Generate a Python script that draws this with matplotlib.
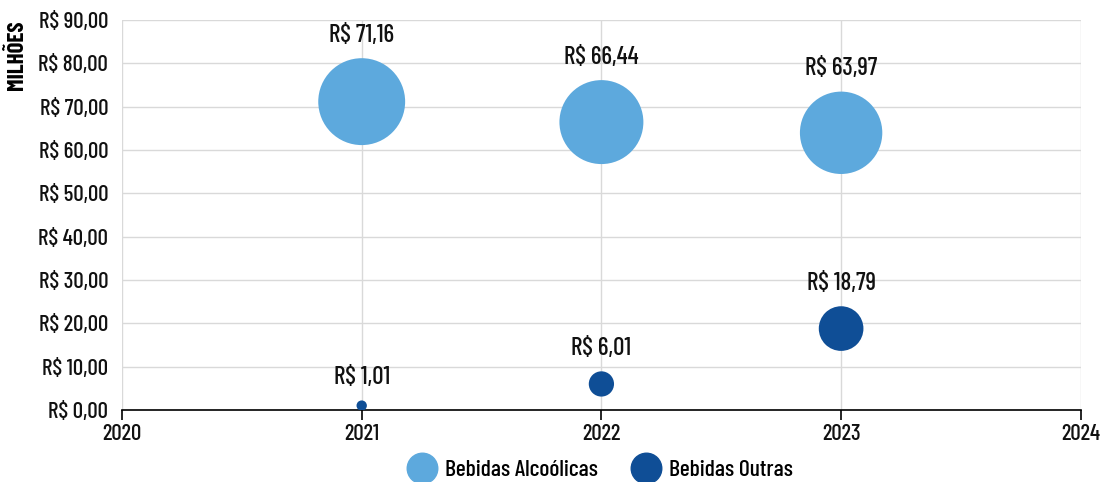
import numpy as np
import matplotlib.pyplot as plt
from matplotlib.lines import Line2D

plt.rcParams['font.family'] = ['Barlow Condensed', 'Roboto Condensed', 'IBM Plex Sans Condensed', 'DejaVu Sans']
plt.rcParams['font.weight'] = 'medium'

anos = [2021, 2022, 2023]
alcoolicas = [71.16, 66.44, 63.97]
outras = [1.01, 6.01, 18.79]
series = ["Bebidas Alcoólicas", "Bebidas Outras"]
cores = ["#5DA9DD", "#0F4E96"]

k = 55.0  # area in pt^2 per milhão

def rotulo(v):
    return "R$ " + ("%.2f" % v).replace(".", ",")

fig = plt.figure(figsize=(11.04, 4.82), dpi=100)
ax = fig.add_axes([0.1105, 0.1494, 0.8685, 0.8091])

for vals, cor in zip([alcoolicas, outras], cores):
    s = np.array(vals) * k
    ax.scatter(anos, vals, s=s, color=cor, zorder=3, linewidths=0)
    for x, v, si in zip(anos, vals, s):
        r = np.sqrt(si) / 2
        ax.annotate(rotulo(v), (x, v), xytext=(0, r + 8), textcoords='offset points',
                    ha='center', va='bottom', fontsize=18, color='#111111')

ax.set_xlim(2020, 2024)
ax.set_ylim(0, 90)
ax.set_xticks([2020, 2021, 2022, 2023, 2024])
ax.set_yticks(np.arange(0, 91, 10))
ax.set_yticklabels([rotulo(v) for v in np.arange(0, 91, 10)])
ax.grid(True, color='#d9d9d9', linewidth=1)
ax.set_axisbelow(True)
for sp in ['top', 'right', 'left']:
    ax.spines[sp].set_visible(False)
ax.spines['bottom'].set_color('black')
ax.spines['bottom'].set_linewidth(1.2)
ax.tick_params(axis='y', length=0, labelsize=16.5, pad=10, labelcolor='#111111')
ax.tick_params(axis='x', length=7, width=1.2, direction='out', labelsize=16.5, pad=3, labelcolor='#111111')
ax.set_ylabel("MILHÕES", fontsize=16.5, fontweight='bold', loc='top', labelpad=8)

handles = [Line2D([], [], marker='o', linestyle='', markersize=22, color=c) for c in cores]
fig.legend(handles, series, loc='center', bbox_to_anchor=(0.5417, 1 - 470 / 482), ncol=2,
           frameon=False, fontsize=17, handletextpad=0.2, columnspacing=1.2,
           borderpad=0, handlelength=1.6)

fig.savefig("out.png", dpi=100)
